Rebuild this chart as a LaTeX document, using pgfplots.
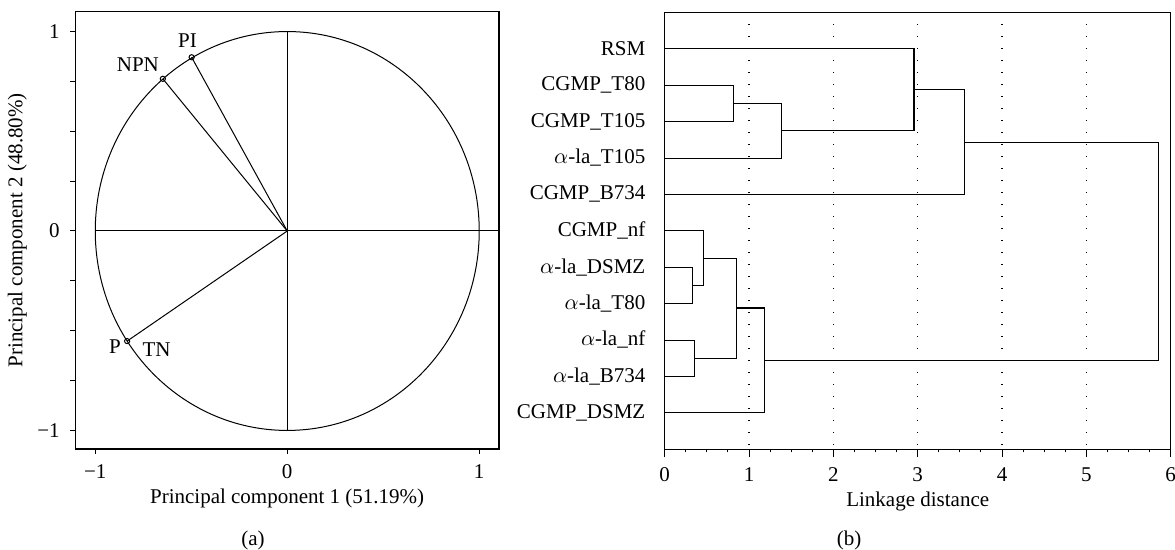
\documentclass[border=0pt]{standalone}
\usepackage{fontspec}
\setmainfont{Liberation Serif}
\usepackage{pgfplots}
\pgfplotsset{compat=1.18}

\begin{document}
\fontsize{10.5}{12.6}\selectfont
\begin{tikzpicture}
\useasboundingbox (0,0) rectangle (587.5pt,-275pt);

% (a) loadings on the first two principal components
\begin{axis}[
    at={(37.65pt,-5.8pt)}, anchor=north west,
    scale only axis, width=211.85pt, height=218.7pt,
    xmin=-1.104, xmax=1.103, ymin=-1.093, ymax=1.1,
    xtick={-1,0,1}, xticklabels={−1,0,1},
    ytick={-1,0,1}, yticklabels={−1,0,1},
    minor ytick={-0.75,-0.5,-0.25,0.25,0.5,0.75},
    tick pos=left, tick align=outside,
    major tick length=2.6pt, minor tick length=2.6pt,
    tick style={black, line width=0.5pt},
    axis line style={line width=0.6pt},
    xticklabel style={yshift=-1.5pt},
    yticklabel style={xshift=-1.5pt},
    xlabel={Principal component 1 (51.19\%)},
    ylabel={Principal component 2 (48.80\%)},
    xlabel style={yshift=2pt},
    ylabel style={yshift=-2pt},
]
\draw[line width=0.5pt] (axis cs:0,0) ellipse [x radius=1, y radius=1];
\draw[line width=0.5pt] (axis cs:-1,0) -- (axis cs:1.103,0);
\draw[line width=0.5pt] (axis cs:0,-1) -- (axis cs:0,1);
\addplot[black, line width=0.5pt, no markers] coordinates {(0,0) (-0.498,0.871)};
\addplot[black, line width=0.5pt, no markers] coordinates {(0,0) (-0.648,0.763)};
\addplot[black, line width=0.5pt, no markers] coordinates {(0,0) (-0.834,-0.552)};
\addplot[only marks, mark=o, mark size=1.3pt,
    mark options={fill=white, draw=black, line width=0.5pt}] coordinates {
  (-0.498,0.871) (-0.648,0.763) (-0.834,-0.552)
};
\node at (axis cs:-0.52,0.955) {PI};
\node at (axis cs:-0.778,0.835) {NPN};
\node at (axis cs:-0.898,-0.58) {P};
\node at (axis cs:-0.681,-0.593) {TN};
\end{axis}

% (b) dendrogram
\begin{axis}[
    at={(332.35pt,-6.15pt)}, anchor=north west,
    scale only axis, width=253pt, height=218.4pt,
    xmin=0, xmax=6, ymin=-1, ymax=11, y dir=reverse,
    xtick={0,1,2,3,4,5,6}, minor x tick num=3,
    ytick={0,1,2,3,4,5,6,7,8,9,10},
    yticklabels={RSM, CGMP\_T80, CGMP\_T105, $\alpha$-la\_T105, CGMP\_B734,
      CGMP\_nf, $\alpha$-la\_DSMZ, $\alpha$-la\_T80, $\alpha$-la\_nf,
      $\alpha$-la\_B734, CGMP\_DSMZ},
    y tick style={draw=none},
    tick pos=left, tick align=outside,
    major tick length=4pt, minor tick length=1.6pt,
    x tick style={black, line width=0.5pt},
    axis line style={line width=0.6pt},
    xmajorgrids,
    major grid style={black, line width=0.6pt, dash pattern=on 0.5pt off 5.5pt},
    /pgf/number format/assume math mode=true,
    xticklabel style={yshift=-1.5pt},
    yticklabel style={xshift=-2pt},
    xlabel={Linkage distance},
    xlabel style={yshift=2pt},
    cycle list={{black, no markers, line width=0.6pt}},
]
\addplot coordinates {(0,1) (0.82,1) (0.82,2) (0,2)};
\addplot coordinates {(0.82,1.5) (1.38,1.5) (1.38,3) (0,3)};
\addplot coordinates {(0,0) (2.955,0) (2.955,2.25) (1.38,2.25)};
\addplot coordinates {(2.955,1.125) (3.55,1.125) (3.55,4) (0,4)};
\addplot coordinates {(0,6) (0.325,6) (0.325,7) (0,7)};
\addplot coordinates {(0,5) (0.463,5) (0.463,6.5) (0.325,6.5)};
\addplot coordinates {(0,8) (0.356,8) (0.356,9) (0,9)};
\addplot coordinates {(0.463,5.75) (0.851,5.75) (0.851,8.5) (0.356,8.5)};
\addplot coordinates {(0.851,7.125) (1.18,7.125) (1.18,10) (0,10)};
\addplot coordinates {(3.55,2.5625) (5.85,2.5625) (5.85,8.5625) (1.18,8.5625)};
\end{axis}

\node at (126.5pt,-270pt) {(a)};
\node at (424.5pt,-270pt) {(b)};
\end{tikzpicture}
\end{document}
